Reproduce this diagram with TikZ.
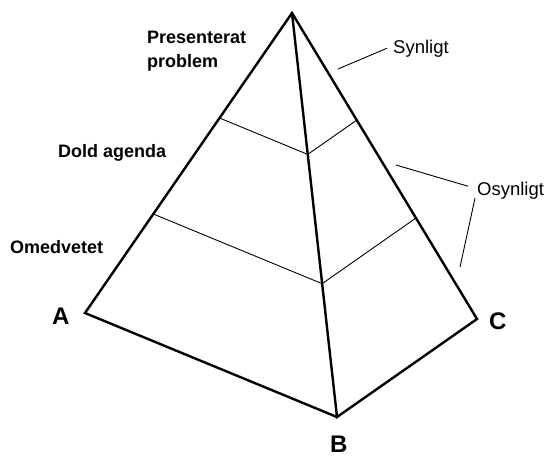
\documentclass[tikz,border=0pt]{standalone}
\usepackage{fontspec}
\setmainfont{Liberation Sans}
\usetikzlibrary{calc}

\begin{document}
\begin{tikzpicture}[x=1pt,y=-1pt,
    kant/.style={line width=2.4pt},
    niva/.style={line width=0.9pt},
    pil/.style={line width=0.9pt},
    fet/.style={font=\bfseries\fontsize{18}{24}\selectfont,inner sep=0pt,align=left},
    bokstav/.style={font=\bfseries\fontsize{24}{28}\selectfont,inner sep=0pt},
    tunn/.style={font=\fontsize{18.5}{22}\selectfont,inner sep=0pt}]
\useasboundingbox (0,0) rectangle (549,458);

% Hörn
\coordinate (T) at (292,13);
\coordinate (A) at (85,313);
\coordinate (B) at (337,417);
\coordinate (C) at (477,319);

% Nivåer
\foreach \f in {0.35,0.67}
  \draw[niva] ($(T)!\f!(A)$) -- ($(T)!\f!(B)$) -- ($(T)!\f!(C)$);

% Kanter
\draw[kant] (B) -- (A) -- (T) -- (C) -- (B) -- (T);

% Texter
\node[fet,anchor=north west] (pres) at (147,31) {Presenterat\\problem};
\node[fet,anchor=base west] (dold) at (58,157) {Dold agenda};
\node[fet,anchor=base west] (omed) at (10,253) {Omedvetet};
\node[bokstav,anchor=base west] (la) at (52,324) {A};
\node[bokstav,anchor=base west] (lb) at (330,452) {B};
\node[bokstav,anchor=base west] (lc) at (489,329) {C};
\node[tunn,anchor=base west] (syn) at (393,53) {Synligt};
\node[tunn,anchor=base west] (osyn) at (477,195) {Osynligt};

% Hänvisningslinjer
\coordinate (s1) at (338,69);
\coordinate (o1) at (396,165);
\coordinate (o2) at (460,267);
\draw[pil] (s1) -- ([xshift=-6pt]syn.west);
\draw[pil] (o1) -- ([shift={(-9,-4)}]osyn.west);
\draw[pil] ([shift={(-2,8)}]osyn.west) -- (o2);
\end{tikzpicture}
\end{document}
